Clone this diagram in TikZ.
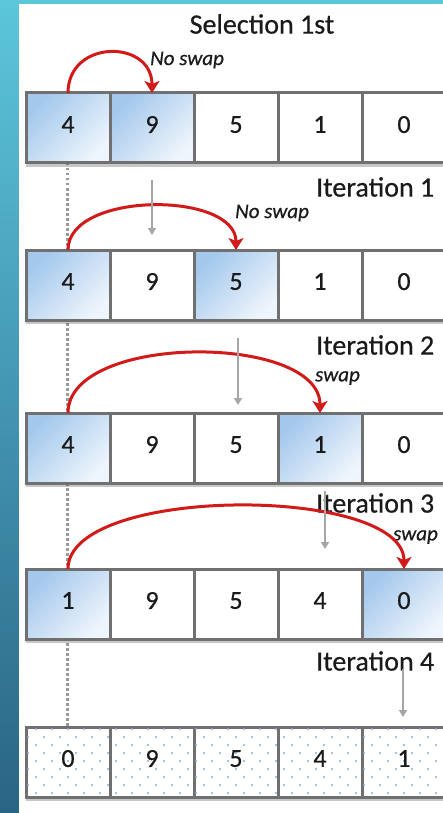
\documentclass[tikz,border=0pt]{standalone}
\usepackage{fontspec}
\setmainfont{Carlito}[FakeBold=0.5]
\usetikzlibrary{arrows.meta,shadows,patterns}

\definecolor{cellgray}{HTML}{707070}
\definecolor{hiblue}{HTML}{A3C8EC}
\definecolor{hiwhite}{HTML}{EEF5FC}
\definecolor{swapred}{HTML}{D11A1A}
\definecolor{guidegray}{HTML}{A6A6A6}
\definecolor{dotgray}{HTML}{9A9A9A}
\definecolor{inkdark}{HTML}{1A1A1A}
\definecolor{dotblue}{HTML}{7DB0E8}
\definecolor{bgtop}{HTML}{5CC6DA}
\definecolor{bgbottom}{HTML}{2A6485}

% staggered light dots for the sorted row
\pgfdeclarepatternformonly{bluedots}{\pgfqpoint{-1pt}{-1pt}}{\pgfqpoint{17pt}{17pt}}{\pgfqpoint{16pt}{16pt}}{%
  \pgfpathcircle{\pgfqpoint{4pt}{4pt}}{1.2pt}%
  \pgfpathcircle{\pgfqpoint{12pt}{12pt}}{1.2pt}%
  \pgfusepath{fill}}

\tikzset{
  cell/.style={draw=cellgray, line width=3pt, fill=white,
    minimum width=84pt, minimum height=70pt, inner sep=0pt, outer sep=0pt,
    font=\fontsize{26}{30}\selectfont, text=inkdark, text depth=7pt,
    drop shadow={shadow xshift=0pt, shadow yshift=-4pt, opacity=0.22, fill=black}},
  hicell/.style={cell, top color=hiblue, bottom color=hiwhite, shading angle=45},
  dotcell/.style={cell, postaction={pattern=bluedots, pattern color=dotblue}},
  heading/.style={font=\fontsize{28}{32}\selectfont, text=inkdark, inner sep=0pt},
  itlabel/.style={heading, anchor=west},
  swaplabel/.style={font=\fontsize{21}{24}\selectfont\itshape, text=inkdark, inner sep=0pt, anchor=west},
  swaparrow/.style={draw=swapred, line width=3pt,
    -{Stealth[length=12pt, width=15pt, inset=3pt]}},
  passarrow/.style={draw=guidegray, line width=2pt,
    -{Triangle[length=7pt, width=8pt]}},
  guide/.style={draw=dotgray, line width=3pt, dash pattern=on 2.5pt off 2.5pt}
}

\begin{document}
\begin{tikzpicture}[x=1pt, y=-1pt]
  \useasboundingbox (0,0) rectangle (443,813);
  % slide background and white panel
  \shade[top color=bgtop, bottom color=bgbottom] (0,0) rectangle (443,813);
  \fill[white] (19,4) rectangle (443,813);

  % guide line under the first column
  \coordinate (gtop) at (67,163);
  \coordinate (gbot) at (67,727);
  \draw[guide] (gtop) -- (gbot);

  % row 1
  \node[hicell] (r1c1) at (68,128) {4};
  \node[hicell] (r1c2) at (152,128) {9};
  \node[cell]   (r1c3) at (236,128) {5};
  \node[cell]   (r1c4) at (320,128) {1};
  \node[cell]   (r1c5) at (404,128) {0};

  % row 2
  \node[hicell] (r2c1) at (68,285) {4};
  \node[cell]   (r2c2) at (152,285) {9};
  \node[hicell] (r2c3) at (236,285) {5};
  \node[cell]   (r2c4) at (320,285) {1};
  \node[cell]   (r2c5) at (404,285) {0};

  % row 3
  \node[hicell] (r3c1) at (68,448) {4};
  \node[cell]   (r3c2) at (152,448) {9};
  \node[cell]   (r3c3) at (236,448) {5};
  \node[hicell] (r3c4) at (320,448) {1};
  \node[cell]   (r3c5) at (404,448) {0};

  % row 4
  \node[hicell] (r4c1) at (68,604) {1};
  \node[cell]   (r4c2) at (152,604) {9};
  \node[cell]   (r4c3) at (236,604) {5};
  \node[cell]   (r4c4) at (320,604) {4};
  \node[hicell] (r4c5) at (404,604) {0};

  % row 5
  \node[dotcell] (r5c1) at (68,762) {0};
  \node[dotcell] (r5c2) at (152,762) {9};
  \node[dotcell] (r5c3) at (236,762) {5};
  \node[dotcell] (r5c4) at (320,762) {4};
  \node[dotcell] (r5c5) at (404,762) {1};

  % labels
  \node[heading] (title) at (262,24) {Selection 1st};
  \node[itlabel] (it1) at (316,187) {Iteration 1};
  \node[itlabel] (it2) at (316,345) {Iteration 2};
  \node[itlabel] (it3) at (316,503) {Iteration 3};
  \node[itlabel] (it4) at (316,661) {Iteration 4};

  \node[swaplabel] (s1) at (150,60) {No swap};
  \node[swaplabel] (s2) at (235,213) {No swap};
  \node[swaplabel] (s3) at (315,378) {swap};
  \node[swaplabel] (s4) at (393,537) {swap};

  % comparison arcs
  \draw[swaparrow] (r1c1.north) .. controls +(0,-54) and +(0,-54) .. (r1c2.north);
  \draw[swaparrow] (r2c1.north) .. controls +(0,-59) and +(0,-59) .. (r2c3.north);
  \draw[swaparrow] (r3c1.north) .. controls +(0,-80) and +(0,-80) .. (r3c4.north);
  \draw[swaparrow] (r4c1.north) .. controls +(0,-84) and +(0,-84) .. (r4c5.north);

  % step arrows between rows
  \draw[passarrow] ([yshift=-17pt]r1c2.south) -- ([yshift=15pt]r2c2.north);
  \draw[passarrow] ([xshift=2pt,yshift=-18pt]r2c3.south) -- ([xshift=2pt,yshift=8pt]r3c3.north);
  \draw[passarrow] ([xshift=5pt,yshift=-8pt]r3c4.south) -- ([xshift=5pt,yshift=20pt]r4c4.north);
  \draw[passarrow] ([xshift=-1pt,yshift=-30pt]r4c5.south) -- ([xshift=-1pt,yshift=10pt]r5c5.north);
\end{tikzpicture}
\end{document}
